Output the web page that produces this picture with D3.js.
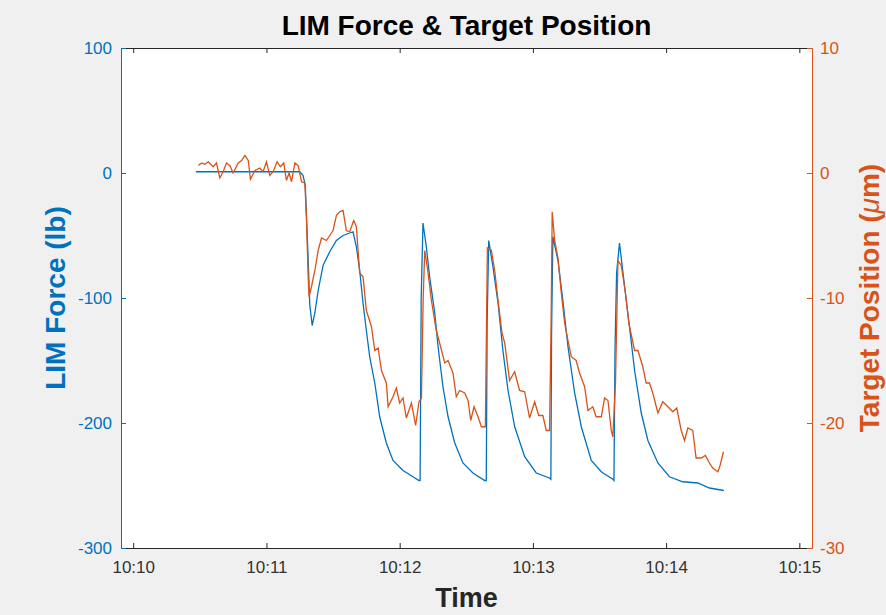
<!DOCTYPE html>
<html>
<head>
<meta charset="utf-8">
<script src="https://cdn.jsdelivr.net/npm/d3@7"></script>
<style>
  body { margin: 0; background: #f0f0f0; }
  svg { display: block; font-family: "Liberation Sans", Arial, sans-serif; }
</style>
</head>
<body>
<div id="chart"></div>
<script>
// LIM force (left axis, lb) and target position (right axis, um) vs time
// temps en secondes depuis 10:10:00
var forceTime = [28.2, 75.0, 76.5, 77.5, 78.6, 79.5, 80.6, 81.8, 83.3, 85.5, 88.5, 91.5, 94.5, 97.5, 99.0,
  100.5, 102.0, 103.5, 105.0, 106.5, 108.8, 111.0, 114.0, 117.0, 121.5, 126.0, 128.7, 129.2, 129.7, 130.5,
  132.0, 133.5, 135.8, 137.3, 139.5, 141.8, 144.8, 148.5, 153.0, 158.3, 159.0, 159.4, 160.1,
  162.0, 164.3, 166.5, 168.8, 171.8, 176.3, 181.5, 187.5, 188.1, 188.4, 189.0,
  191.3, 193.5, 195.8, 198.8, 201.8, 206.3, 210.8, 216.0, 216.5, 217.0, 217.7, 219.0,
  221.3, 223.5, 225.8, 228.8, 231.8, 236.3, 241.5, 247.5, 254.3, 259.5, 266.0];
var forceValue = [1, 1, -2, -10, -60, -105, -122, -112, -94, -74, -63, -54, -50, -48, -47,
  -59, -78, -104, -126, -147, -168, -195, -216, -230, -238, -243, -246, -246, -100, -40,
  -59, -83, -112, -139, -171, -195, -216, -232, -240, -246, -246, -120, -54,
  -75, -104, -142, -174, -203, -227, -240, -244, -245, -130, -51,
  -70, -102, -139, -176, -203, -230, -239, -245, -246, -140, -80, -56,
  -91, -123, -158, -192, -214, -232, -243, -247, -248, -252, -254];

var posTime = [29.3, 30.8, 32.3, 33.8, 36.0, 37.5, 39.0, 40.5, 42.0, 43.5, 45.0, 47.3, 48.8, 50.3, 51.8,
  52.8, 54.8, 57.0, 58.5, 60.0, 61.5, 63.0, 64.8, 66.3, 67.8, 69.0, 70.2, 71.3, 72.8, 74.3,
  75.8, 77.3, 78.0, 78.8, 79.2, 80.3, 81.8, 83.3, 84.8, 87.0, 88.5, 90.0, 91.5, 93.0, 94.5,
  96.0, 97.5, 99.3, 100.5, 102.0, 103.5, 105.0, 107.3, 108.8, 110.3, 111.8, 114.0, 114.8, 117.0,
  118.5, 120.0, 121.5, 123.0, 125.3, 127.2, 128.7, 129.8, 130.6, 131.3, 132.8, 134.3, 136.5,
  138.0, 140.3, 141.8, 144.0, 145.5, 147.0, 149.3, 150.8, 152.0, 153.5, 155.3, 156.8, 158.6,
  159.5, 161.3, 162.8, 164.3, 166.1, 167.3, 169.5, 171.8, 174.0, 176.3, 178.5, 180.8, 182.6,
  184.5, 186.0, 187.5, 188.2, 188.7, 189.8, 191.3, 192.8, 194.3, 195.8, 197.3, 199.5, 201.0,
  203.3, 204.8, 207.0, 208.5, 210.8, 212.3, 213.8, 215.3, 216.0, 217.2, 218.3, 219.8, 221.7,
  223.2, 225.8, 227.3, 229.5, 231.0, 232.5, 234.0, 236.3, 238.5, 240.8, 243.0, 244.8, 246.8,
  248.3, 249.8, 252.0, 253.5, 255.8, 257.7, 259.5, 261.0, 263.3, 264.3, 265.8];
var posValue = [0.6, 0.8, 0.7, 0.9, 0.5, 0.8, -0.4, 0.1, 0.8, 0.6, 0.0, 0.8, 1.0, 1.4, 1.0,
  -0.5, 0.2, 0.4, 0.1, 0.9, -0.2, 0.1, 0.9, 0.5, 0.8, -0.6, 0.0, -0.7, 0.8, 0.6,
  -0.7, -0.8, -3.5, -8.3, -9.9, -9.1, -7.8, -6.2, -5.2, -5.4, -5.0, -4.6, -3.4, -3.1, -3.0,
  -4.6, -4.7, -3.8, -4.3, -8.0, -8.3, -11.0, -12.3, -14.2, -14.0, -15.8, -16.8, -18.7, -17.9,
  -17.2, -18.4, -18.0, -19.6, -18.4, -20.2, -18.3, -18.0, -10.0, -6.2, -8.0, -10.2, -12.6,
  -13.6, -15.2, -15.0, -16.0, -17.9, -17.4, -17.6, -18.2, -19.8, -18.7, -19.5, -20.3, -20.3,
  -6.0, -6.2, -7.8, -10.2, -12.8, -13.6, -16.6, -15.9, -17.4, -17.5, -19.6, -18.3, -19.4,
  -19.4, -20.6, -20.6, -12.0, -3.1, -5.4, -6.8, -9.6, -12.0, -13.4, -14.7, -15.0, -16.0,
  -17.1, -19.0, -18.7, -19.5, -19.5, -18.0, -18.2, -20.6, -21.1, -16.8, -7.0, -7.4, -9.6,
  -12.0, -14.2, -14.2, -15.5, -16.8, -16.8, -17.6, -19.2, -18.3, -18.7, -19.1, -18.8, -20.6,
  -21.4, -20.4, -20.6, -22.8, -22.8, -22.6, -23.2, -23.6, -23.9, -23.4, -22.3];

var leftTicks = [-300, -200, -100, 0, 100];
var rightTicks = [-30, -20, -10, 0, 10];
var xTickLabels = ["10:10", "10:11", "10:12", "10:13", "10:14", "10:15"];

const width = 886, height = 615;
const margin = { top: 48, right: 74, bottom: 67, left: 121 };
const blue = "#0072BD", orange = "#D95319", gray = "#262626";

var base = new Date(2000, 0, 1, 10, 10, 0);
function toDate(s) { return new Date(base.getTime() + s * 1000); }

var svg = d3.select("#chart").append("svg")
  .attr("width", width)
  .attr("height", height);

var x = d3.scaleTime()
  .domain([toDate(-5.5), toDate(305.7)])
  .range([margin.left, width - margin.right]);
var yL = d3.scaleLinear().domain([-300, 100]).range([height - margin.bottom, margin.top]);
var yR = d3.scaleLinear().domain([-30, 10]).range([height - margin.bottom, margin.top]);

// fond blanc de la zone de tracé
svg.append("rect")
  .attr("x", margin.left).attr("y", margin.top)
  .attr("width", width - margin.left - margin.right)
  .attr("height", height - margin.top - margin.bottom)
  .attr("fill", "#fff");

var xTickDates = xTickLabels.map(function (d, i) { return toDate(i * 60); });

// axe du bas
var xAxis = svg.append("g")
  .attr("transform", "translate(0," + (height - margin.bottom) + ")")
  .call(d3.axisBottom(x).tickValues(xTickDates)
    .tickFormat(function (d, i) { return xTickLabels[i]; })
    .tickSizeInner(-5).tickSizeOuter(0).tickPadding(13));
// axe du haut
var xTop = svg.append("g")
  .attr("transform", "translate(0," + margin.top + ")")
  .call(d3.axisTop(x).tickValues(xTickDates).tickFormat("")
    .tickSizeInner(-5).tickSizeOuter(0));
[xAxis, xTop].forEach(function (g) {
  g.select(".domain").attr("stroke", gray).attr("stroke-width", 1);
  g.selectAll(".tick line").attr("stroke", gray);
});
xAxis.selectAll("text").attr("fill", "#333").style("font-size", "17px");

// format avec trait d'union simple (comme MATLAB)
var plain = function (d) { return String(d); };

var left = svg.append("g")
  .attr("transform", "translate(" + margin.left + ",0)")
  .call(d3.axisLeft(yL).tickValues(leftTicks).tickFormat(plain)
    .tickSizeInner(-5).tickSizeOuter(0).tickPadding(9));
var right = svg.append("g")
  .attr("transform", "translate(" + (width - margin.right) + ",0)")
  .call(d3.axisRight(yR).tickValues(rightTicks).tickFormat(plain)
    .tickSizeInner(-5).tickSizeOuter(0).tickPadding(8));

left.select(".domain").attr("stroke", blue);
left.selectAll(".tick line").attr("stroke", blue);
left.selectAll("text").attr("fill", blue).style("font-size", "17px");
right.select(".domain").attr("stroke", orange);
right.selectAll(".tick line").attr("stroke", orange);
right.selectAll("text").attr("fill", orange).style("font-size", "17px");

// courbes
var forceLine = d3.line()
  .x(function (d, i) { return x(toDate(forceTime[i])); })
  .y(function (d) { return yL(d); });
var posLine = d3.line()
  .x(function (d, i) { return x(toDate(posTime[i])); })
  .y(function (d) { return yR(d); });

svg.append("path")
  .datum(forceValue)
  .attr("d", forceLine)
  .attr("fill", "none")
  .attr("stroke", blue)
  .attr("stroke-width", 1.3);

svg.append("path")
  .datum(posValue)
  .attr("d", posLine)
  .attr("fill", "none")
  .attr("stroke", orange)
  .attr("stroke-width", 1.3);

// titres
var cx = (margin.left + width - margin.right) / 2;
svg.append("text")
  .attr("x", cx).attr("y", 35)
  .attr("text-anchor", "middle")
  .style("font-size", "28px").style("font-weight", "bold")
  .attr("fill", "#000")
  .text("LIM Force & Target Position");

svg.append("text")
  .attr("x", cx).attr("y", 607)
  .attr("text-anchor", "middle")
  .style("font-size", "27px").style("font-weight", "bold")
  .attr("fill", gray)
  .text("Time");

var cy = (margin.top + height - margin.bottom) / 2;
svg.append("text")
  .attr("transform", "translate(65," + cy + ") rotate(-90)")
  .attr("text-anchor", "middle")
  .style("font-size", "28px").style("font-weight", "bold")
  .attr("fill", blue)
  .text("LIM Force (lb)");

var rl = svg.append("text")
  .attr("transform", "translate(879," + cy + ") rotate(-90)")
  .attr("text-anchor", "middle")
  .style("font-size", "28px").style("font-weight", "bold")
  .attr("fill", orange);
rl.append("tspan").text("Target Position (");
rl.append("tspan").style("font-style", "italic").style("font-weight", "normal").text("μ");
rl.append("tspan").text("m)");
</script>
</body>
</html>
